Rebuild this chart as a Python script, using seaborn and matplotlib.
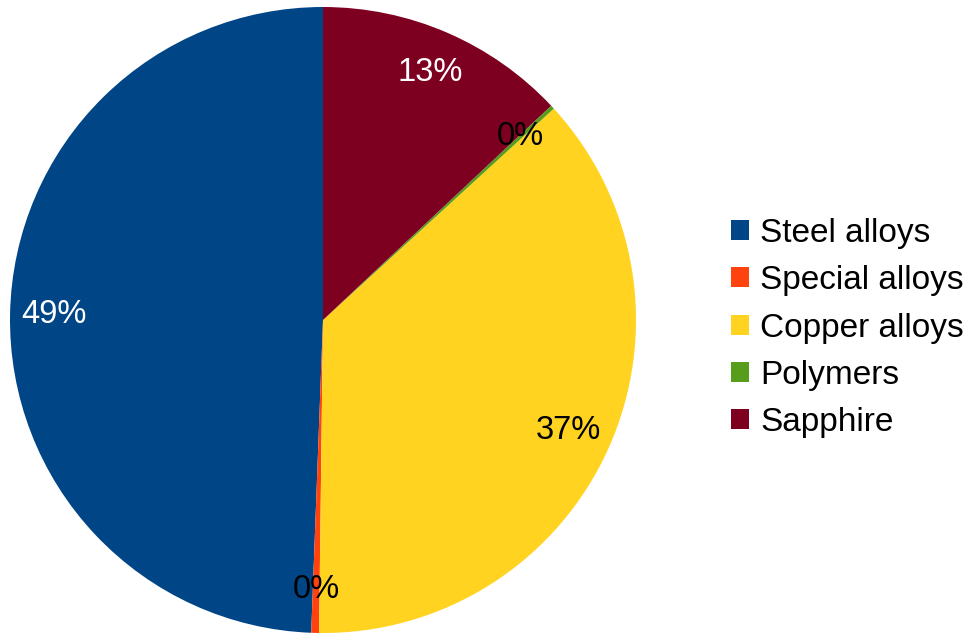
import matplotlib
matplotlib.use("Agg")
import matplotlib.pyplot as plt
from matplotlib.patches import Patch
import seaborn as sns

# Material share of the parts
materials = ["Steel alloys", "Special alloys", "Copper alloys", "Polymers", "Sapphire"]
shares = [49.4, 0.4, 37.0, 0.2, 13.0]
colors = ["#004586", "#ff420e", "#ffd320", "#579d1c", "#7e0021"]
label_colors = ["white", "black", "black", "black", "white"]

sns.set_theme(style="white")
plt.rcParams["font.family"] = ["Liberation Sans", "DejaVu Sans"]
plt.rcParams["text.color"] = "black"

fig = plt.figure(figsize=(9.69, 6.36), dpi=100)
ax = fig.add_axes([10 / 969, 3 / 636, 626 / 969, 626 / 636])

palette = sns.color_palette(colors)
wedges, texts, autotexts = ax.pie(
    shares,
    colors=palette,
    startangle=90,
    counterclock=True,
    autopct="%.0f%%",
    pctdistance=0.86,
    radius=1.0,
    wedgeprops=dict(linewidth=0),
    textprops=dict(fontsize=23.5),
)
for t, c in zip(autotexts, label_colors):
    t.set_color(c)
ax.set_xlim(-1, 1)
ax.set_ylim(-1, 1)
ax.set_aspect("equal")
ax.axis("off")

handles = [Patch(facecolor=c, edgecolor="none", label=m) for c, m in zip(palette, materials)]
fig.legend(
    handles=handles,
    loc="center left",
    bbox_to_anchor=(731 / 969, 1 - 328 / 636),
    frameon=False,
    fontsize=24,
    labelcolor="black",
    handlelength=0.55,
    handleheight=0.55,
    handletextpad=0.33,
    labelspacing=0.49,
    borderpad=0,
    borderaxespad=0,
)

fig.savefig("out.png", dpi=100, facecolor="white")
